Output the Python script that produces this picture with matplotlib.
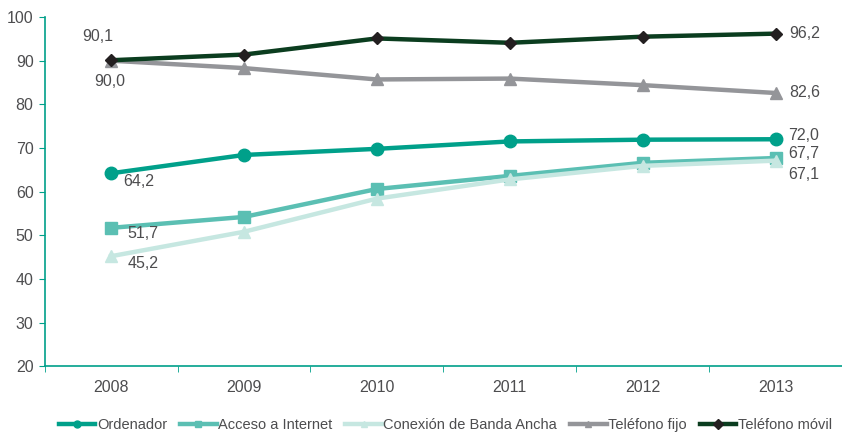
import matplotlib.pyplot as plt

years = ["2008", "2009", "2010", "2011", "2012", "2013"]
ordenador = [64.2, 68.4, 69.8, 71.5, 71.9, 72.0]
internet = [51.7, 54.2, 60.6, 63.6, 66.6, 67.7]
banda_ancha = [45.2, 50.8, 58.4, 62.8, 65.9, 67.1]
fijo = [90.0, 88.3, 85.7, 85.9, 84.4, 82.6]
movil = [90.1, 91.4, 95.1, 94.1, 95.5, 96.2]

plt.rcParams["font.family"] = ["Liberation Sans", "DejaVu Sans"]
text_col = "#4d4d4f"
axis_col = "#00a08a"
fs = 11.5

fig = plt.figure(figsize=(8.42, 4.37), dpi=100)
ax = fig.add_axes([0.053, 0.162, 0.947, 0.799])

x = list(range(len(years)))
series = [
    ("Ordenador", ordenador, "#00a08a", "#00a08a", "o", 9),
    ("Acceso a Internet", internet, "#5bbfb3", "#5bbfb3", "s", 8),
    ("Conexión de Banda Ancha", banda_ancha, "#c6e7e1", "#c6e7e1", "^", 9),
    ("Teléfono fijo", fijo, "#949599", "#949599", "^", 9),
    ("Teléfono móvil", movil, "#0b3d1f", "#231f20", "D", 6),
]
for name, vals, lc, mc, mk, ms in series:
    ax.plot(x, vals, color=lc, lw=3.2, marker=mk, ms=ms,
            markerfacecolor=mc, markeredgecolor=mc, label=name)

def fmt(v):
    return f"{v:.1f}".replace(".", ",")

# labels at first and last points
first = [(movil[0], (-21, 17)), (fijo[0], (-12, -15)), (ordenador[0], (9, -6)),
         (internet[0], (12, -4)), (banda_ancha[0], (12, -5))]
for v, off in first:
    ax.annotate(fmt(v), (0, v), xytext=off, textcoords="offset points",
                color=text_col, fontsize=fs, ha="left", va="center")
last = [(movil[-1], (10, 0)), (fijo[-1], (10, 0)), (ordenador[-1], (9, 3)),
        (internet[-1], (9, 3)), (banda_ancha[-1], (9, -10))]
for v, off in last:
    ax.annotate(fmt(v), (5, v), xytext=off, textcoords="offset points",
                color=text_col, fontsize=fs, ha="left", va="center")

ax.set_xlim(-0.5, 5.5)
ax.set_ylim(20, 100)
ax.set_yticks(range(20, 101, 10))
ax.set_xticks(x)
ax.set_xticklabels(years)
ax.set_xticks([i - 0.5 for i in range(7)], minor=True)
ax.tick_params(axis="x", which="major", length=0, pad=10, labelsize=fs, labelcolor=text_col)
ax.tick_params(axis="x", which="minor", length=4, color=axis_col, direction="out")
ax.tick_params(axis="y", length=4, color=axis_col, labelsize=fs, labelcolor=text_col, pad=4)

for s in ["top", "right"]:
    ax.spines[s].set_visible(False)
for s in ["left", "bottom"]:
    ax.spines[s].set_color(axis_col)
    ax.spines[s].set_linewidth(1.2)

leg = fig.legend(loc="lower center", ncol=5, frameon=False, bbox_to_anchor=(0.529, -0.018),
                 fontsize=10.5, handlelength=2.5, handletextpad=0.1, columnspacing=0.9)
for t in leg.get_texts():
    t.set_color(text_col)
for h in leg.legend_handles:
    h.set_markersize(5)

fig.savefig("out.png", dpi=100)
